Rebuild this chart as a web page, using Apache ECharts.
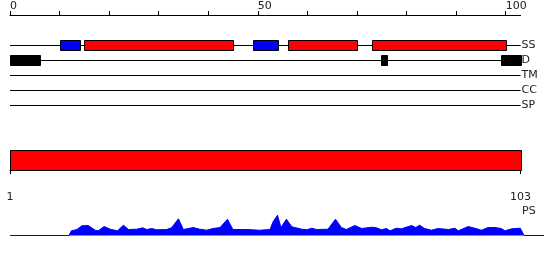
<!DOCTYPE html>
<html><head><meta charset="utf-8">
<script src="https://cdn.jsdelivr.net/npm/echarts@6/dist/echarts.min.js"></script>
<style>html,body{margin:0;padding:0;background:#fff}#c{width:550px;height:260px}</style>
</head><body><div id="c"></div>
<script>
const trackNames = ['SS', 'D', 'TM', 'CC', 'SP'];
const topTicks = [0, 10, 20, 30, 40, 50, 60, 70, 80, 90, 100];
const topLabels = [0, 50, 100];
const axisMax = 103;
const ssStart = [10, 15, 49, 56, 73];
const ssEnd = [14, 45, 54, 70, 100];
const ssType = ['E', 'H', 'E', 'H', 'H'];
const dStart = [0, 74.9, 99];
const dEnd = [6, 76.1, 103];
const seqRange = [1, 103];
const psPos = [0, 11.9, 12.4, 13.5, 14.5, 15.8, 17.2, 17.8, 19.0, 20.2, 21.7, 22.9, 23.9, 25.6, 26.8, 27.6, 28.6, 29.6, 31.6, 32.6, 34.0, 35.0, 37.0, 38.3, 39.7, 41.0, 42.4, 43.9, 45.0, 47.8, 50.4, 52.5, 53.1, 54.0, 54.7, 55.8, 56.9, 58.9, 59.9, 60.9, 61.9, 64.2, 65.7, 66.9, 67.9, 69.6, 71.0, 73.0, 74.0, 75.0, 76.0, 76.7, 78.0, 79.0, 81.1, 81.9, 82.7, 83.7, 85.1, 86.4, 88.5, 89.8, 90.5, 92.5, 93.8, 95.2, 96.5, 97.9, 99.2, 99.9, 101.3, 103.0, 103.8, 107.8];
const psVal = [0, 0, 4.7, 6, 9.7, 10, 5.3, 4.7, 9, 6.3, 4.7, 10.3, 6, 6.3, 7.7, 6, 7, 5.7, 6, 7.7, 16.7, 6, 8, 6.3, 5.3, 7, 8, 16.3, 6, 6, 5.3, 6, 13.7, 20.3, 8, 16.3, 8.7, 6.3, 5.7, 7.3, 6, 6.3, 16.3, 8, 6, 10, 7, 8.3, 7.7, 5.7, 7, 4.7, 7.3, 6.7, 10, 8, 10.3, 7, 5.3, 7, 6, 7.3, 4.7, 9, 7.3, 5.3, 8, 8, 7, 4.7, 6.7, 7.3, 0, 0];
const psLabel = 'PS';

const FONT = 'DejaVu Sans';
const typeColor = { E: '#0000ff', H: '#ff0000', D: '#000000' };

const featData = [];
ssStart.forEach((s, i) => featData.push([s, ssEnd[i], 0, ssType[i]]));
dStart.forEach((s, i) => featData.push([s, dEnd[i], 1, 'D']));

const chart = echarts.init(document.getElementById('c'), null, { renderer: 'canvas' });
chart.setOption({
  animation: false,
  grid: [
    { left: 10, right: 29.4, top: 37.5, height: 75 },
    { left: 10, right: 29.4, top: 150, height: 20 },
    { left: 10, right: 6, top: 214.5, height: 21 }
  ],
  xAxis: [
    {
      gridIndex: 0, type: 'value', min: 0, max: axisMax, position: 'top', offset: 22.5,
      axisLine: { show: true, lineStyle: { color: '#000', width: 1 } },
      axisTick: { show: true, length: 4, lineStyle: { color: '#000' }, customValues: topTicks },
      axisLabel: { show: true, customValues: topLabels, align: 'left', margin: 3, fontFamily: FONT, fontSize: 11, color: '#222' },
      splitLine: { show: false }
    },
    {
      gridIndex: 1, type: 'value', min: seqRange[0], max: seqRange[1], position: 'bottom', offset: 10,
      axisLine: { show: true, lineStyle: { color: '#000', width: 1 } },
      axisTick: { show: true, length: 4, lineStyle: { color: '#000' }, customValues: seqRange },
      axisLabel: { show: true, customValues: seqRange, margin: 12, fontFamily: FONT, fontSize: 11, color: '#222' },
      splitLine: { show: false }
    },
    {
      gridIndex: 2, type: 'value', min: 0, max: 107.8,
      axisLine: { show: false }, axisTick: { show: false }, axisLabel: { show: false }, splitLine: { show: false }
    }
  ],
  yAxis: [
    {
      gridIndex: 0, type: 'category', data: trackNames, inverse: true, position: 'right',
      axisLine: { show: false }, axisTick: { show: false }, splitLine: { show: false },
      axisLabel: { margin: 1, fontFamily: FONT, fontSize: 11, color: '#222', align: 'left', padding: [2, 0, 0, 0] }
    },
    { gridIndex: 1, type: 'value', min: 0, max: 1, show: false },
    { gridIndex: 2, type: 'value', min: 0, max: 21, show: false }
  ],
  graphic: [
    { type: 'text', x: 522, y: 211.5, style: { text: psLabel, font: '11px "DejaVu Sans"', fill: '#222', verticalAlign: 'middle', align: 'left' } }
  ],
  series: [
    {
      type: 'custom', xAxisIndex: 0, yAxisIndex: 0, z: 1,
      data: trackNames.map((n, i) => [0, axisMax, i]),
      renderItem: (params, api) => {
        const p0 = api.coord([api.value(0), api.value(2)]);
        const p1 = api.coord([api.value(1), api.value(2)]);
        const y = Math.round(p0[1]) + 0.5;
        return { type: 'line', shape: { x1: p0[0], y1: y, x2: p1[0], y2: y }, style: { stroke: '#000', lineWidth: 1 } };
      }
    },
    {
      type: 'custom', xAxisIndex: 0, yAxisIndex: 0, z: 2,
      data: featData,
      renderItem: (params, api) => {
        const p0 = api.coord([api.value(0), api.value(2)]);
        const p1 = api.coord([api.value(1), api.value(2)]);
        const cy = Math.round(p0[1]);
        const t = featData[params.dataIndex][3];
        return {
          type: 'rect',
          shape: { x: Math.round(p0[0]) + 0.5, y: cy - 4.5, width: Math.round(p1[0] - p0[0]), height: 10 },
          style: { fill: typeColor[t], stroke: '#000', lineWidth: 1 }
        };
      }
    },
    {
      type: 'custom', xAxisIndex: 1, yAxisIndex: 1,
      data: [[seqRange[0], seqRange[1]]],
      renderItem: (params, api) => {
        const p0 = api.coord([api.value(0), 1]);
        const p1 = api.coord([api.value(1), 0]);
        return {
          type: 'rect',
          shape: { x: Math.round(p0[0]) + 0.5, y: Math.round(p0[1]) + 0.5, width: Math.round(p1[0] - p0[0]), height: Math.round(p1[1] - p0[1]) },
          style: { fill: '#ff0000', stroke: '#000', lineWidth: 1 }
        };
      }
    },
    {
      type: 'line', xAxisIndex: 2, yAxisIndex: 2,
      data: psPos.map((p, i) => [p, psVal[i]]),
      showSymbol: false, smooth: false,
      lineStyle: { color: '#0000ff', width: 1 },
      areaStyle: { color: '#0000ff', opacity: 1 }
    }
  ]
});
</script>
</body></html>
